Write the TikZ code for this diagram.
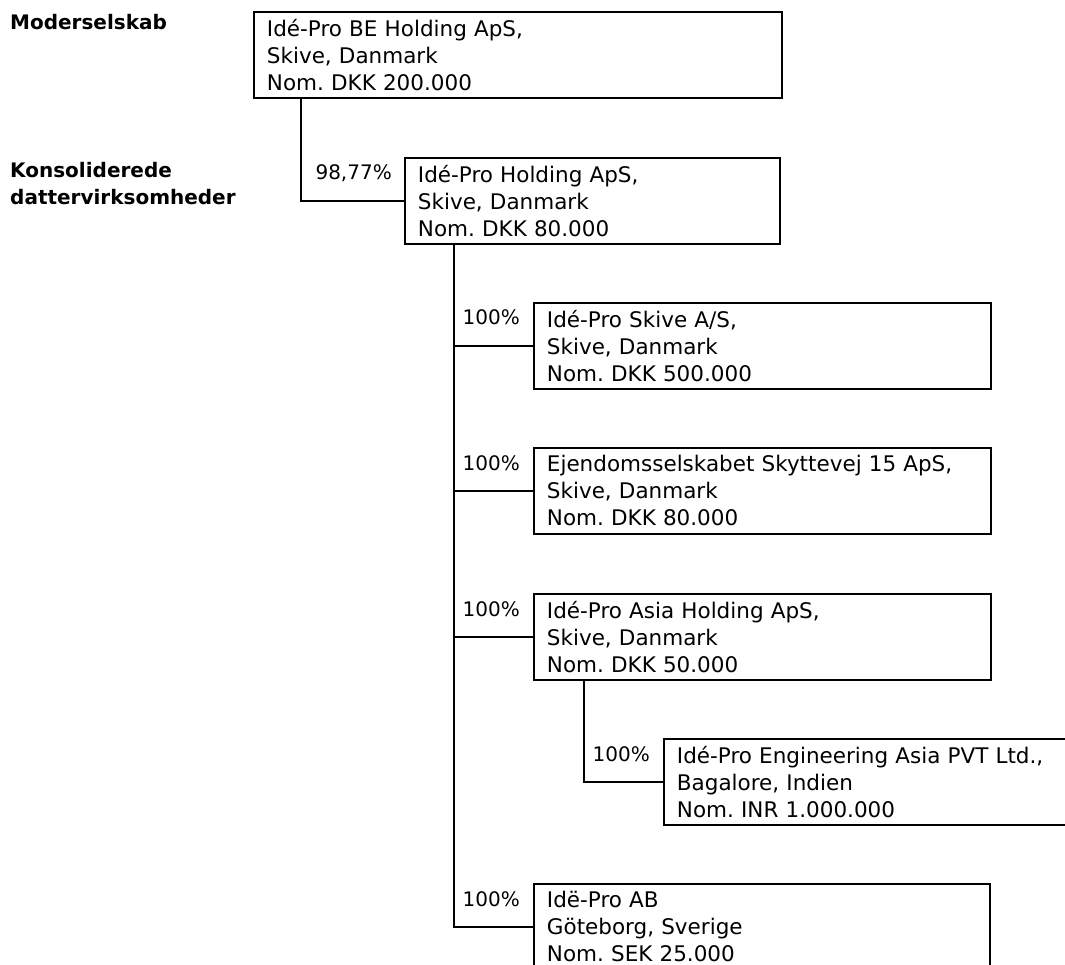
\documentclass[tikz,border=0pt]{standalone}
\usepackage{fontspec}
\setmainfont{DejaVu Sans}
\usetikzlibrary{calc}

\begin{document}
\frenchspacing
\begin{tikzpicture}[x=1pt,y=-1pt]
    \tikzset{BoxStyle/.style = {draw, line width=1.9pt, anchor=north west, align=left, minimum height=86pt, inner xsep=13pt, inner ysep=0pt, font=\fontsize{21.5}{27}\selectfont},
             PctStyle/.style = {anchor=base east, inner sep=0pt, font=\fontsize{20}{27}\selectfont},
             HeadStyle/.style = {anchor=west, align=left, inner sep=0pt, font=\bfseries\fontsize{20}{27}\selectfont}}
    \clip (0,0) rectangle (1065,965);

    % headings
    \node[HeadStyle] at (10,22) (moder) {Moderselskab};
    \node[HeadStyle] at (10,184) (datter) {Konsoliderede\\ dattervirksomheder};

    % companies
    \node[BoxStyle, text width=502pt] at (253,11) (bepro) {Idé-Pro BE Holding ApS,\\ Skive, Danmark\\ Nom. DKK 200.000};
    \node[BoxStyle, text width=349pt] at (404,157) (holding) {Idé-Pro Holding ApS,\\ Skive, Danmark\\ Nom. DKK 80.000};
    \node[BoxStyle, text width=431pt] at (533,302) (skive) {Idé-Pro Skive A/S,\\ Skive, Danmark\\ Nom. DKK 500.000};
    \node[BoxStyle, text width=431pt] at (533,447) (ejendom) {Ejendomsselskabet Skyttevej 15 ApS,\\ Skive, Danmark\\ Nom. DKK 80.000};
    \node[BoxStyle, text width=431pt] at (533,593) (asia) {Idé-Pro Asia Holding ApS,\\ Skive, Danmark\\ Nom. DKK 50.000};
    \node[BoxStyle, text width=394pt] at (663,738) (engineering) {Idé-Pro Engineering Asia PVT Ltd.,\\ Bagalore, Indien\\ Nom. INR 1.000.000};
    \node[BoxStyle, text width=430pt] at (533,883) (sverige) {Idë-Pro AB\\ Göteborg, Sverige\\ Nom. SEK 25.000};

    % ownership
    \node[PctStyle] at ($(holding.north west)+(-12,23)$) (p1) {98,77\%};
    \node[PctStyle] at ($(skive.north west)+(-13,23)$) (p2) {100\%};
    \node[PctStyle] at ($(ejendom.north west)+(-13,23)$) (p3) {100\%};
    \node[PctStyle] at ($(asia.north west)+(-13,23)$) (p4) {100\%};
    \node[PctStyle] at ($(engineering.north west)+(-13,23)$) (p5) {100\%};
    \node[PctStyle] at ($(sverige.north west)+(-13,23)$) (p6) {100\%};

    \coordinate (t1) at ($(bepro.south west)+(48,0)$);
    \coordinate (t2) at ($(holding.south west)+(50,0)$);
    \coordinate (t3) at ($(asia.south west)+(51,0)$);

    \path[draw,line width=1.9pt]
        (t1) |- (holding.west)
        (t2) |- (skive.west)
        (t2) |- (ejendom.west)
        (t2) |- (asia.west)
        (t2) |- (sverige.west)
        (t3) |- (engineering.west)
        ;
\end{tikzpicture}
\end{document}
